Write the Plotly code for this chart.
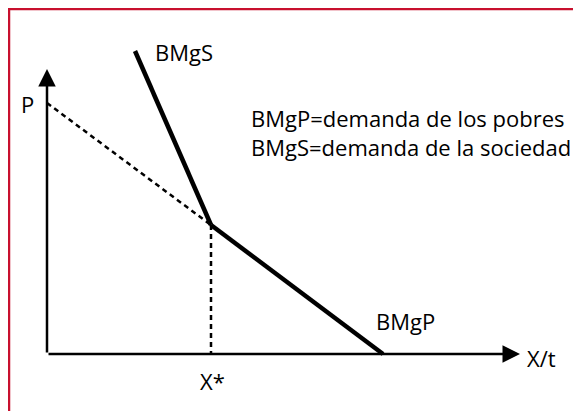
import plotly.graph_objects as go

# coordinates measured from the origin of the diagram (x to the right, y up)
bmgs_x = [88, 164]
bmgs_y = [303, 129]
bmgp_x = [164, 336]
bmgp_y = [129, 0]
ext_x = [0, 164]          # dotted extension of BMgP up to the P axis
ext_y = [251, 129]
drop_x = [164, 164]       # dotted drop to X*
drop_y = [129, 0]
x_axis_end = 473
y_axis_end = 285

font = "Open Sans"
red = "#C8102E"

fig = go.Figure()

fig.add_trace(go.Scatter(x=ext_x, y=ext_y, mode="lines",
                         line=dict(color="black", width=2.5, dash="5px,4px")))
fig.add_trace(go.Scatter(x=drop_x, y=drop_y, mode="lines",
                         line=dict(color="black", width=2.5, dash="5px,4px")))
fig.add_trace(go.Scatter(x=bmgs_x, y=bmgs_y, mode="lines",
                         line=dict(color="black", width=4.5)))
fig.add_trace(go.Scatter(x=bmgp_x, y=bmgp_y, mode="lines",
                         line=dict(color="black", width=4.5)))

# axes with arrow heads
for tip, tail in [((x_axis_end, 0), (0, 0)), ((0, y_axis_end), (0, 0))]:
    fig.add_annotation(x=tip[0], y=tip[1], ax=tail[0], ay=tail[1],
                       xref="x", yref="y", axref="x", ayref="y",
                       showarrow=True, arrowhead=2, arrowsize=1.4,
                       arrowwidth=2.5, arrowcolor="black", text="")

def label(x, y, text, anchor="left", size=22):
    fig.add_annotation(x=x, y=y, text=text, showarrow=False, xref="x", yref="y",
                       xanchor=anchor, yanchor="middle", align="left",
                       font=dict(family=font, size=size, color="black"))

label(-11, 250, "P", anchor="right")
label(x_axis_end + 5, -4, "X/t")
label(bmgs_x[0] + 18, 302, "BMgS")
label(bmgp_x[1] - 9, 33, "BMgP")
label(bmgp_x[0] + 1, -27, "X*", anchor="center")
label(202, 222, "BMgP=demanda de los pobres<br>BMgS=demanda de la sociedad")

fig.add_shape(type="rect", xref="paper", yref="paper",
              x0=1 / 581, x1=1.05, y0=-0.05, y1=1 - 1 / 411,
              line=dict(color=red, width=2.5))

# the page body adds an 8px offset, so ranges are shifted to keep the origin in place
fig.update_xaxes(range=[-39, 542], visible=False)
fig.update_yaxes(range=[-65, 346], visible=False)
fig.update_layout(width=581, height=411, margin=dict(l=0, r=0, t=0, b=0),
                  showlegend=False, plot_bgcolor="white", paper_bgcolor="white")

fig.write_html("out.html")
